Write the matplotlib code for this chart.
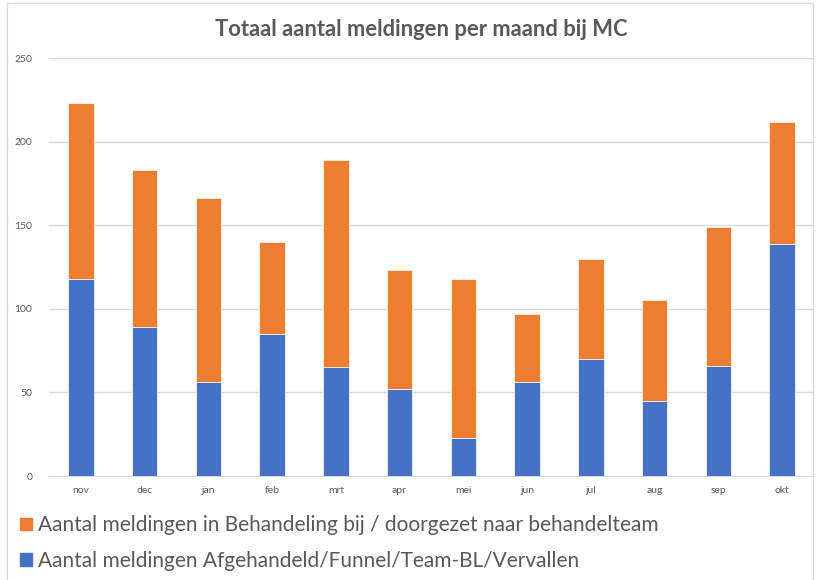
import matplotlib
matplotlib.use("Agg")
import matplotlib.pyplot as plt
from matplotlib.patches import Rectangle, Patch

months = ["nov", "dec", "jan", "feb", "mrt", "apr", "mei", "jun", "jul", "aug", "sep", "okt"]
afgehandeld = [118, 89, 56, 85, 65, 52, 23, 56, 70, 45, 66, 139]
totaal = [223, 183, 166, 140, 189, 123, 118, 97, 130, 105, 149, 212]
behandeling = [t - a for t, a in zip(totaal, afgehandeld)]

BLUE = "#4472C4"
ORANGE = "#ED7D31"
GREY = "#595959"

plt.rcParams["font.family"] = ["Lato", "DejaVu Sans"]

W, H = 816, 580
fig = plt.figure(figsize=(W / 100, H / 100), dpi=100)

# chart frame (cropped excel chart)
fig.patches.append(Rectangle((7 / W, -0.05), 806 / W, 1.05 - 3 / H, transform=fig.transFigure,
                             fill=False, edgecolor="#D9D9D9", lw=1))

ax = fig.add_axes([49 / W, 1 - 476 / H, 765 / W, 418 / H])
x = range(len(months))
ax.bar(x, afgehandeld, 0.4, color=BLUE, edgecolor="white", lw=0.5, zorder=3)
ax.bar(x, behandeling, 0.4, bottom=afgehandeld, color=ORANGE, edgecolor="white", lw=0.5, zorder=3)

ax.set_xlim(-0.5, len(months) - 0.5)
ax.set_ylim(0, 250)
ax.set_yticks(range(0, 251, 50))
ax.set_xticks(list(x))
ax.set_xticklabels(months)
ax.grid(axis="y", color="#D9D9D9", lw=1, zorder=0)
for s in ["top", "right", "left"]:
    ax.spines[s].set_visible(False)
ax.spines["bottom"].set_color("#D9D9D9")
ax.tick_params(length=0, labelsize=7.5, labelcolor=GREY)
ax.tick_params(axis="y", pad=12)
ax.tick_params(axis="x", pad=7)

fig.text(421 / W, 1 - 30 / H, "Totaal aantal meldingen per maand bij MC", ha="center", va="center",
         fontsize=15.8, fontweight="bold", color=GREY)

handles = [Patch(color=ORANGE), Patch(color=BLUE)]
labels = ["Aantal meldingen in Behandeling bij / doorgezet naar behandelteam",
          "Aantal meldingen Afgehandeld/Funnel/Team-BL/Vervallen"]
fig.legend(handles, labels, loc="upper left", bbox_to_anchor=(12 / W, 1 - 507 / H), frameon=False,
           fontsize=15, labelcolor=GREY, handlelength=0.55, handleheight=0.55, handletextpad=0.3,
           labelspacing=0.75, borderaxespad=0)

fig.savefig("out.png", dpi=100)
